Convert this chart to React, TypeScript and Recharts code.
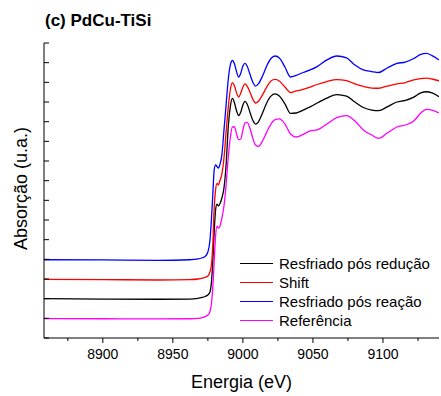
import React from 'react';
import { LineChart, Line, XAxis, YAxis, Legend, Label } from 'recharts';

const FONT = '"Liberation Sans", Arial, Helvetica, sans-serif';

// Photon energy (eV)
const energy = [
  8858, 8900, 8940, 8962, 8968, 8971, 8973, 8975, 8976.5, 8977.5,
  8978.5, 8979.5, 8980.5, 8981.5, 8982.5, 8983.5, 8985, 8986.5, 8988, 8989.5,
  8991, 8992.5, 8994, 8995.5, 8997, 8998.5, 9000, 9001.5, 9003, 9005,
  9007, 9009, 9011, 9014, 9017, 9020, 9023, 9026, 9030, 9034,
  9038, 9043, 9048, 9053, 9060, 9067, 9074, 9080, 9086, 9092,
  9097, 9103, 9110, 9116, 9122, 9127, 9131, 9135, 9140,
];

// Resfriado pós redução (black)
const reducao = [
  2.0, 1.98, 1.97, 1.98, 2.02, 2.06, 2.11, 2.19, 2.34, 2.8,
  3.86, 5.39, 6.51, 6.81, 6.71, 6.81, 7.12, 7.63, 8.8, 10.68,
  11.75, 12.18, 11.95, 11.54, 11.31, 11.49, 11.85, 12.03, 11.9, 11.49,
  11.08, 10.88, 10.98, 11.44, 11.95, 12.3, 12.41, 12.3, 11.9, 11.42,
  11.44, 11.59, 11.75, 11.95, 12.2, 12.38, 12.3, 12.0, 11.72, 11.59,
  11.56, 11.75, 12.0, 12.08, 12.25, 12.46, 12.52, 12.46, 12.27,
];

// Shift (red)
const shift = [
  2.98, 2.97, 2.95, 2.97, 3.0, 3.04, 3.08, 3.15, 3.36, 3.71,
  4.73, 6.61, 7.53, 7.86, 7.78, 7.98, 8.34, 9.15, 10.47, 11.69,
  12.61, 12.99, 12.81, 12.46, 12.25, 12.46, 12.76, 12.92, 12.81, 12.51,
  12.15, 11.95, 12.03, 12.36, 12.76, 13.07, 13.15, 13.07, 12.76, 12.48,
  12.56, 12.64, 12.76, 12.89, 13.04, 13.14, 13.09, 12.92, 12.79, 12.71,
  12.7, 12.81, 12.92, 12.99, 13.12, 13.19, 13.21, 13.17, 13.08,
];

// Resfriado pós reação (blue)
const reacao = [
  3.98, 3.97, 3.95, 3.98, 4.02, 4.08, 4.14, 4.37, 4.98, 6.0,
  7.27, 8.54, 8.8, 8.72, 8.64, 8.8, 9.31, 10.58, 11.85, 13.12,
  13.88, 14.11, 13.93, 13.53, 13.27, 13.47, 13.83, 13.96, 13.83, 13.42,
  13.02, 12.81, 12.92, 13.32, 13.83, 14.21, 14.34, 14.24, 13.78, 13.27,
  13.35, 13.5, 13.63, 13.8, 14.14, 14.34, 14.24, 13.88, 13.63, 13.55,
  13.5, 13.73, 13.96, 14.03, 14.21, 14.42, 14.47, 14.36, 14.14,
];

// Referência (magenta)
const referencia = [
  0.99, 0.98, 0.97, 0.98, 1.0, 1.04, 1.09, 1.17, 1.35, 1.73,
  2.54, 3.86, 5.19, 5.69, 5.59, 5.67, 6.1, 6.71, 7.78, 9.15,
  10.17, 10.73, 10.73, 10.37, 10.09, 10.12, 10.58, 10.93, 10.96, 10.68,
  10.17, 9.81, 9.74, 10.02, 10.47, 10.88, 11.11, 11.14, 10.88, 10.37,
  10.22, 10.35, 10.53, 10.58, 10.88, 11.21, 11.31, 11.03, 10.58, 10.32,
  10.15, 10.42, 10.73, 10.83, 11.03, 11.44, 11.62, 11.59, 11.44,
];

const xTicks = [8875, 8900, 8925, 8950, 8975, 9000, 9025, 9050, 9075, 9100, 9125];
const yTicks = [0, 1, 2, 3, 4, 5, 6, 7, 8, 9, 10, 11, 12, 13, 14, 15];

const SERIES = [
  { key: 'reducao', name: 'Resfriado pós redução', color: '#000000' },
  { key: 'shift', name: 'Shift', color: '#ff0000' },
  { key: 'reacao', name: 'Resfriado pós reação', color: '#0000ff' },
  { key: 'referencia', name: 'Referência', color: '#ff00ff' },
];

const data = energy.map((e, i) => ({
  energy: e,
  reducao: reducao[i],
  shift: shift[i],
  reacao: reacao[i],
  referencia: referencia[i],
}));

const XTick = (props: any) => {
  const { x, y, payload } = props;
  const v = payload.value;
  const major = v % 50 === 0;
  return (
    <g>
      <line x1={x} x2={x} y1={y} y2={y + (major ? 5 : 3)} stroke="#000" strokeWidth={1} />
      {major && (
        <text x={x} y={y + 21} textAnchor="middle" fontSize={14} fontFamily={FONT} fill="#000">
          {v}
        </text>
      )}
    </g>
  );
};

const YTick = (props: any) => {
  const { x, y } = props;
  return <line x1={x} x2={x + 5} y1={y} y2={y} stroke="#000" strokeWidth={1} />;
};

const renderLegend = () => (
  <div style={{ fontFamily: FONT, fontSize: 15, color: '#000', lineHeight: '19px' }}>
    {SERIES.map((s) => (
      <div key={s.key} style={{ display: 'flex', alignItems: 'center', height: 19 }}>
        <span
          style={{
            display: 'inline-block',
            width: 33,
            height: 0,
            borderTop: `1.3px solid ${s.color}`,
            marginRight: 6,
          }}
        />
        <span style={{ whiteSpace: 'nowrap' }}>{s.name}</span>
      </div>
    ))}
  </div>
);

export default function App() {
  return (
    <div style={{ position: 'absolute', left: 0, top: 0, width: 441, height: 396, background: '#fff' }}>
      <LineChart
        width={441}
        height={396}
        data={data}
        margin={{ top: 43, right: 2, bottom: 0, left: 0 }}
      >
        <XAxis
          dataKey="energy"
          type="number"
          domain={[8858, 9140]}
          ticks={xTicks}
          interval={0}
          height={58}
          tickSize={0}
          tickMargin={0}
          tickLine={false}
          tick={<XTick />}
          stroke="#000"
          axisLine={{ stroke: '#000', strokeWidth: 1 }}
          allowDataOverflow
        >
          <Label
            content={(p: any) => {
              const vb = p.viewBox;
              return (
                <text
                  x={vb.x + vb.width / 2}
                  y={388}
                  textAnchor="middle"
                  fontSize={18}
                  fontFamily={FONT}
                  fill="#000"
                >
                  Energia (eV)
                </text>
              );
            }}
          />
        </XAxis>
        <YAxis
          type="number"
          domain={[0, 15]}
          ticks={yTicks}
          interval={0}
          width={44}
          tickSize={0}
          tickMargin={0}
          tickLine={false}
          tick={<YTick />}
          axisLine={{ stroke: '#000', strokeWidth: 1 }}
          allowDataOverflow
        >
          <Label
            content={(p: any) => {
              const vb = p.viewBox;
              const cy = vb.y + vb.height / 2 - 2;
              return (
                <g>
                  <text
                    transform={`translate(26.5, ${cy}) rotate(-90)`}
                    textAnchor="middle"
                    fontSize={18}
                    fontFamily={FONT}
                    fill="#000"
                  >
                    Absorção (u.a.)
                  </text>
                  <text x={45} y={26} fontSize={17} fontWeight="bold" fontFamily={FONT} fill="#000">
                    (c) PdCu-TiSi
                  </text>
                </g>
              );
            }}
          />
        </YAxis>
        <Legend
          verticalAlign="middle"
          align="center"
          layout="vertical"
          content={renderLegend}
          wrapperStyle={{ position: 'absolute', left: 240, top: 254, width: 200, margin: 0, padding: 0 }}
        />
        {SERIES.map((s) => (
          <Line
            key={s.key}
            type="monotone"
            dataKey={s.key}
            name={s.name}
            stroke={s.color}
            strokeWidth={1.3}
            dot={false}
            activeDot={false}
            isAnimationActive={false}
          />
        ))}
      </LineChart>
    </div>
  );
}
